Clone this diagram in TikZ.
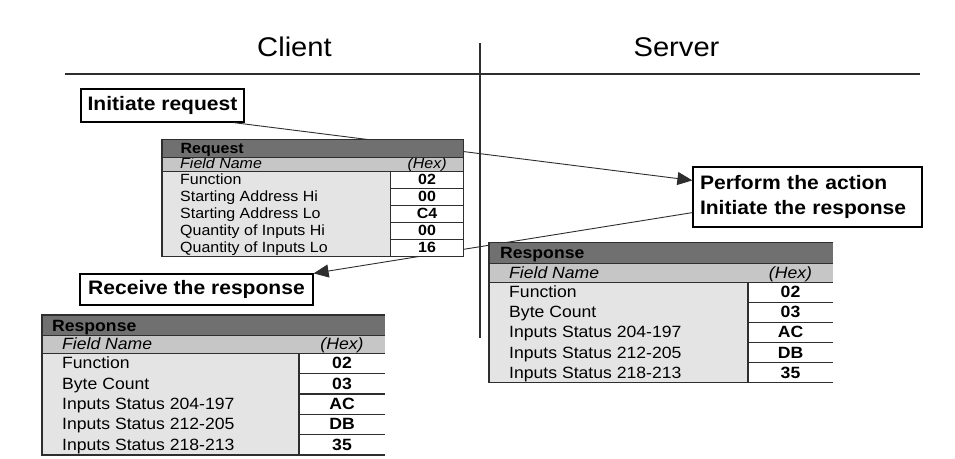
\documentclass[tikz,border=0pt]{standalone}
\usepackage{fontspec}
\setmainfont{Liberation Sans}[FakeStretch=1.08]
\usetikzlibrary{arrows.meta,calc}
\definecolor{hdrgray}{HTML}{707070}
\definecolor{fieldgray}{HTML}{C6C6C6}
\definecolor{datagray}{HTML}{E4E4E4}
\definecolor{linegray}{HTML}{2E2E2E}
\tikzset{
  tline/.style={draw=linegray,line width=1.1pt},
  labelbox/.style={draw=black,line width=1.2pt,fill=white,inner sep=0pt,
    font=\fontsize{19.5}{25}\selectfont\bfseries},
  conn/.style={draw=linegray,line width=0.9pt,
    -{Triangle[length=15pt,width=13pt]}},
  divider/.style={draw=linegray,line width=2pt},
  titletext/.style={font=\fontsize{27}{30}\selectfont,inner sep=0pt,anchor=base}
}
\newcommand\drawmbtable{%
  \pgfmathsetmacro\tYa{\tY+\tHh}%
  \pgfmathsetmacro\tYb{\tYa+\tFh}%
  \pgfmathsetmacro\tYc{\tYb+5*\tRh}%
  \fill[datagray] (\tX,\tYb) rectangle (\tH,\tYc);
  \fill[white] (\tH,\tYb) rectangle (\tR,\tYc);
  \fill[fieldgray] (\tX,\tYa) rectangle (\tR,\tYb);
  \fill[hdrgray] (\tX,\tY) rectangle (\tR,\tYa);
  \node[anchor=base west,inner sep=0pt,font=\tFont\bfseries] (\tN-title)
    at (\tX+\tTo,{\tYa-0.22*\tHh}) {\tTitle};
  \node[anchor=base west,inner sep=0pt,font=\tFont\itshape] (\tN-field)
    at (\tX+\tLo,{\tYb-0.2*\tFh}) {Field Name};
  \node[anchor=base,inner sep=0pt,font=\tFont\itshape] (\tN-hex)
    at ({(\tH+\tR)/2},{\tYb-0.2*\tFh}) {(Hex)};
  \foreach \lab/\hx [count=\i] in \tRows {
    \pgfmathsetmacro\rb{\tYb+\i*\tRh}
    \node[anchor=base west,inner sep=0pt,font=\tFont] (\tN-l\i)
      at (\tX+\tLo,{\rb-0.23*\tRh}) {\lab};
    \node[anchor=base,inner sep=0pt,font=\tFont\bfseries] (\tN-v\i)
      at ({(\tH+\tR)/2},{\rb-0.23*\tRh}) {\hx};
    \draw[tline] (\tH,\rb) -- (\tR,\rb);
  }
  \draw[tline] (\tR,\tY) -- (\tX,\tY) -- (\tX,\tYc) -- (\tH,\tYc);
  \draw[tline] (\tX,\tYa) -- (\tR,\tYa);
  \draw[tline] (\tX,\tYb) -- (\tR,\tYb);
  \draw[tline] (\tH,\tYb) -- (\tH,\tYc);
}
\begin{document}
\begin{tikzpicture}[x=1pt,y=-1pt]
\useasboundingbox[fill=white] (0,0) rectangle (955,458);

% titles and dividers
\node[titletext] (client) at (294.5,56.5) {Client};
\node[titletext] (server) at (676.5,56.5) {Server};
\coordinate (hl) at (65,74);
\coordinate (hr) at (920,74);
\coordinate (vt) at (480,43);
\coordinate (vb) at (480,338);
\draw[divider] (hl) -- (hr);
\draw[divider] (vt) -- (vb);

% label boxes
\node[labelbox,minimum width=163pt,minimum height=33pt] (ir) at (162.5,105.5) {Initiate request};
\node[labelbox,text width=215pt,inner xsep=7pt,minimum height=60pt,align=left] (perf) at (807.5,197)
  {Perform the action\\Initiate the response};
\node[labelbox,minimum width=233pt,minimum height=31pt] (rcv) at (196.5,289.5) {Receive the response};

% connectors (behind tables)
\draw[conn] ($(ir.south east)+(-11,0)$) -- ($(perf.north west)+(0,14)$);
\draw[conn] ($(perf.south west)+(0,-15)$) -- (rcv.north east);

% request table
\def\tN{req}\def\tX{162}\def\tY{139.3}\def\tH{390.7}\def\tR{463.5}
\def\tHh{18}\def\tFh{14.4}\def\tRh{17}
\def\tTo{18.5}\def\tLo{18}
\def\tFont{\fontsize{14.8}{16}\selectfont}
\def\tTitle{Request}
\def\tRows{Function/02,Starting Address Hi/00,Starting Address Lo/C4,Quantity of Inputs Hi/00,Quantity of Inputs Lo/16}
\drawmbtable
\draw[tline] (463.5,139.3) -- (463.5,256.7);

% server response table
\def\tN{srv}\def\tX{489}\def\tY{242.7}\def\tH{748}\def\tR{833}
\def\tHh{20.6}\def\tFh{19}\def\tRh{20.08}
\def\tTo{11}\def\tLo{20}
\def\tFont{\fontsize{16.3}{18}\selectfont}
\def\tTitle{Response}
\def\tRows{Function/02,Byte Count/03,Inputs Status 204-197/AC,Inputs Status 212-205/DB,Inputs Status 218-213/35}
\drawmbtable

% client response table
\def\tN{cli}\def\tX{42}\def\tY{315}\def\tH{299}\def\tR{385}
\def\tHh{20.7}\def\tFh{17.6}\def\tRh{20.34}
\def\tTo{10}\def\tLo{20}
\drawmbtable

\end{tikzpicture}
\end{document}
